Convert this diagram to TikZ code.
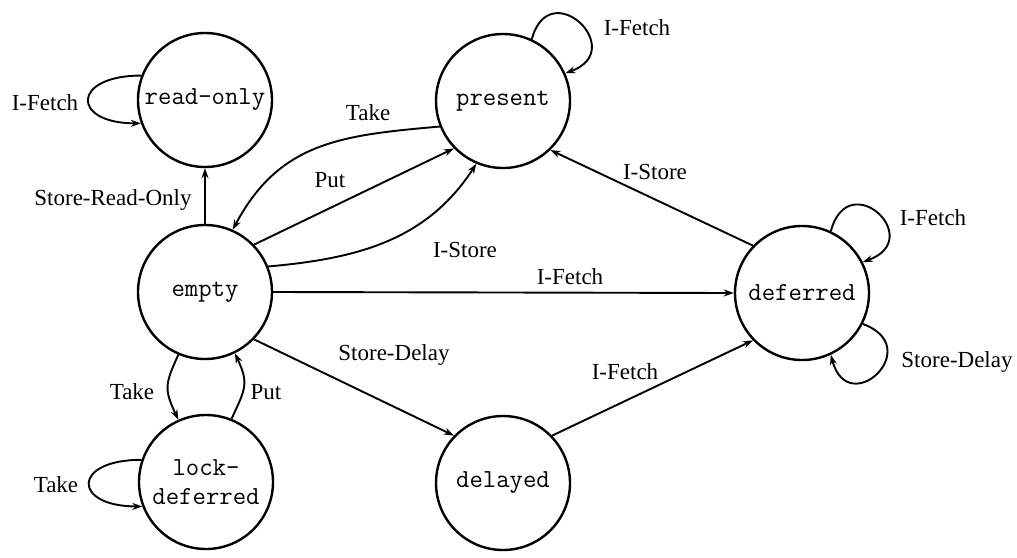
\documentclass[tikz,border=0pt]{standalone}
\usepackage{fontspec}
\setmainfont{Liberation Serif}
\usetikzlibrary{arrows.meta}
\begin{document}
\begin{tikzpicture}[x=1pt,y=-1pt,
  state/.style={draw,circle,line width=2.4pt,minimum size=134pt,inner sep=0pt,
    font=\fontsize{26}{29}\selectfont\ttfamily,align=center},
  lbl/.style={font=\fontsize{23}{28}\selectfont,inner sep=0pt},
  tr/.style={line width=1.9pt,-{Stealth[length=10pt,width=7pt]}}]
\useasboundingbox (0,0) rectangle (1017,557);
\fill[white] (0,0) rectangle (1017,557);
% states
\node[state] (ro) at (205,100) {read-only};
\node[state] (pr) at (503,101) {present};
\node[state] (em) at (205,292) {empty};
\node[state] (df) at (802,293) {deferred};
\node[state] (ld) at (206,482) {lock-\\deferred};
\node[state] (dl) at (503,483) {delayed};
% transitions
\draw[tr] (ro.159) to[out=180,in=180,distance=70pt] (ro.200);
\draw[tr] (em.90) -- (ro.270);
\draw[tr] (pr.202) to[out=185,in=62,looseness=1.1] (em.66);
\draw[tr] (em.44) -- (pr.224);
\draw[tr] (em.22) to[out=5,in=237] (pr.247);
\draw[tr] (df.136) -- (pr.314);
\draw[tr] (pr.65) to[out=75,in=20,distance=68pt] (pr.24);
\draw[tr] (em.0) -- (df.180);
\draw[tr] (df.65) to[out=75,in=20,distance=68pt] (df.27);
\draw[tr] (df.333) to[out=340,in=285,distance=68pt] (df.295);
\draw[tr] (em.316) -- (dl.136);
\draw[tr] (dl.44) -- (df.224);
\draw[tr] (em.247) to[out=245,in=115,looseness=1.3] (ld.114);
\draw[tr] (ld.68) to[out=65,in=295,looseness=1.3] (em.296);
\draw[tr] (ld.161) to[out=180,in=180,distance=70pt] (ld.201);
% labels
\node[lbl] (l1) at (45,103) {I-Fetch};
\node[lbl] (l2) at (113,200) {Store-Read-Only};
\node[lbl] (l3) at (368,113) {Take};
\node[lbl] (l4) at (330,180) {Put};
\node[lbl] (l5) at (465,250) {I-Store};
\node[lbl] (l6) at (655,172) {I-Store};
\node[lbl] (l7) at (637,28) {I-Fetch};
\node[lbl] (l8) at (570,277) {I-Fetch};
\node[lbl] (l9) at (933,218) {I-Fetch};
\node[lbl] (l10) at (957,362) {Store-Delay};
\node[lbl] (l11) at (394,355) {Store-Delay};
\node[lbl] (l12) at (625,372) {I-Fetch};
\node[lbl] (l13) at (132,392) {Take};
\node[lbl] (l14) at (266,392) {Put};
\node[lbl] (l15) at (56,485) {Take};
\end{tikzpicture}
\end{document}
